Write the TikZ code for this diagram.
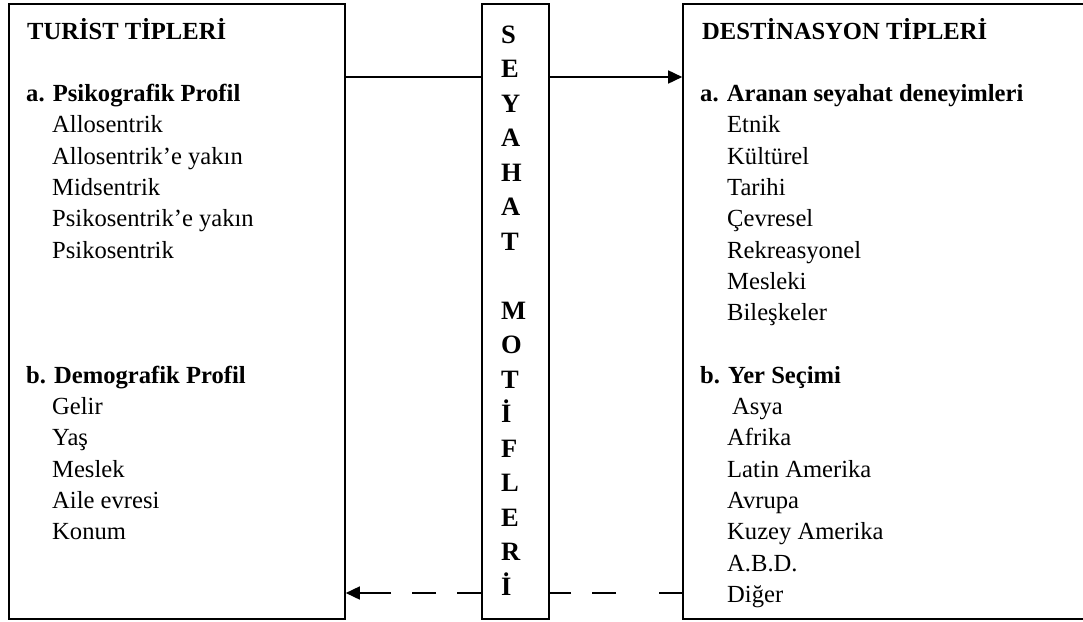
\documentclass[tikz,border=0pt]{standalone}
\usepackage{fontspec}
\setmainfont{Liberation Serif}
\usetikzlibrary{arrows.meta}
\begin{document}
\begin{tikzpicture}[x=1pt,y=-1pt,
  box/.style={draw=black, line width=1.6pt, rectangle, inner sep=0pt, fill=white},
  txt/.style={anchor=base west, inner sep=0pt, font=\fontsize{24.6}{30}\selectfont},
  hd/.style={anchor=base west, inner sep=0pt, font=\fontsize{24.6}{30}\selectfont\bfseries},
  vl/.style={anchor=base west, inner sep=0pt, font=\fontsize{26.5}{30}\selectfont\bfseries},
  line/.style={line width=1.6pt},
  conn/.style={line width=1.6pt, -{Triangle[length=14pt,width=13pt]}},
]
\useasboundingbox (0,0) rectangle (1083,621);
\clip (0,0) rectangle (1083,621);

% boxes
\node[box, minimum width=336pt, minimum height=615pt] (L) at (177,311.5) {};
\node[box, minimum width=67pt, minimum height=615pt] (M) at (515.5,311.5) {};
\node[box, minimum width=407pt, minimum height=615pt] (R) at (886.5,311.5) {};

% connector levels
\coordinate (ya) at (0,77);
\coordinate (yb) at (0,593);

\draw[line] (L.east |- ya) -- (M.west |- ya);
\draw[conn] (M.east |- ya) -- (R.west |- ya);
\draw[line, dash pattern=on 23pt off 43pt on 24pt off 21pt on 24pt off 20pt] (R.west |- yb) -- (M.east |- yb);
\draw[conn, dash pattern=on 24pt off 21pt on 24pt off 21pt on 100pt off 0pt] (M.west |- yb) -- (L.east |- yb);

% left box text
\node[hd] (lt) at (27,39) {TURİST TİPLERİ};
\node[hd] (la) at (26,101.6) {a. Psikografik Profil};
\foreach \t [count=\i] in {Allosentrik, Allosentrik’e yakın, Midsentrik, Psikosentrik’e yakın, Psikosentrik}
  \node[txt] (la\i) at (52,101.6+31.3*\i) {\t};
\node[hd] (lb) at (26,383.3) {b. Demografik Profil};
\foreach \t [count=\i] in {Gelir, Yaş, Meslek, Aile evresi, Konum}
  \node[txt] (lb\i) at (52,383.3+31.3*\i) {\t};

% middle vertical text
\foreach \k/\c in {0/S,1/E,2/Y,3/A,4/H,5/A,6/T,8/M,9/O,10/T,11/İ,12/F,13/L,14/E,15/R,16/İ}
  \node[vl] (m\k) at (501,43+34.5*\k) {\c};

% right box text
\node[hd] (rt) at (702,39) {DESTİNASYON TİPLERİ};
\node[hd] (ra) at (700,101.6) {a. Aranan seyahat deneyimleri};
\foreach \t [count=\i] in {Etnik, Kültürel, Tarihi, Çevresel, Rekreasyonel, Mesleki, Bileşkeler}
  \node[txt] (ra\i) at (727,101.6+31.3*\i) {\t};
\node[hd] (rb) at (700,383.3) {b. Yer Seçimi};
\node[txt] (rb1) at (732,414.6) {Asya};
\foreach \t [count=\i from 2] in {Afrika, Latin Amerika, Avrupa, Kuzey Amerika, A.B.D., Diğer}
  \node[txt] (rb\i) at (727,383.3+31.3*\i) {\t};
\end{tikzpicture}
\end{document}
